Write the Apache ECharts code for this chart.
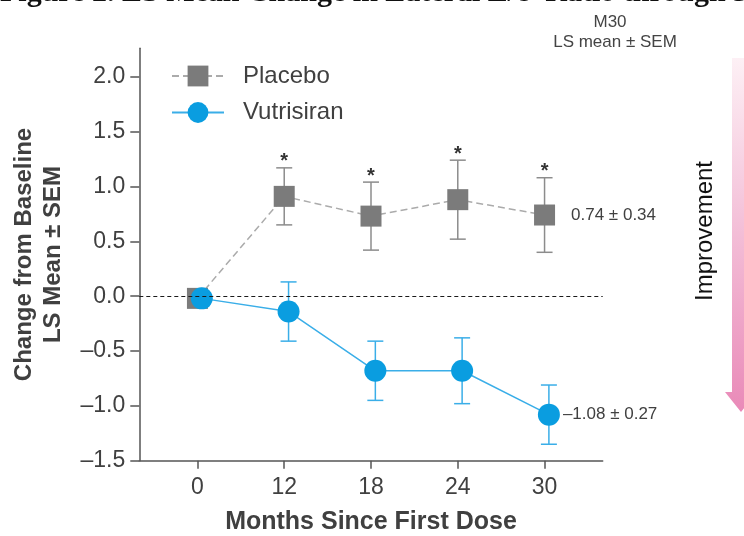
<!DOCTYPE html>
<html><head><meta charset="utf-8">
<script src="https://cdn.jsdelivr.net/npm/echarts@6/dist/echarts.min.js"></script>
<style>html,body{margin:0;padding:0;background:#fff}#c{width:744px;height:536px}</style>
</head><body><div id="c"></div>
<script>
// ---- data ----
const months = ['0', '12', '18', '24', '30'];
const placeboMean = [-0.02, 0.91, 0.73, 0.88, 0.74];
const placeboSem = [0, 0.26, 0.31, 0.36, 0.34];
const placeboSignificant = [false, true, true, true, true];
const vutrisiranMean = [-0.02, -0.14, -0.68, -0.68, -1.08];
const vutrisiranSem = [0, 0.27, 0.27, 0.30, 0.27];
const yTicks = [-1.5, -1, -0.5, 0, 0.5, 1, 1.5, 2];

// ---- style ----
const FONT = '"Liberation Sans", Arial, sans-serif';
const TXT = '#404040';
const GRAY = '#7b7b7b', GRAY_BAR = '#8c8c8c', GRAY_LINE = '#ababab';
const BLUE = '#0a9de0', BLUE_LINE = '#3aaee8';
const dodgePlacebo = 0, dodgeVutri = 0.05;
const fmt = v => (v < 0 ? '\u2013' : '') + Math.abs(v).toFixed(2);
const idx = months.map((m, i) => i);

function errorBars(color, dodge, sig) {
  return function (params, api) {
    const x = api.value(0) + dodge, m = api.value(1), s = api.value(2);
    const top = api.coord([x, m + s]);
    const children = [];
    if (s > 0) {
      const bot = api.coord([x, m - s]);
      const hw = 8, st = { stroke: color, lineWidth: 1.5 };
      children.push({ type: 'line', shape: { x1: top[0], y1: top[1], x2: bot[0], y2: bot[1] }, style: st });
      children.push({ type: 'line', shape: { x1: top[0] - hw, y1: top[1], x2: top[0] + hw, y2: top[1] }, style: st });
      children.push({ type: 'line', shape: { x1: bot[0] - hw, y1: bot[1], x2: bot[0] + hw, y2: bot[1] }, style: st });
    }
    if (sig && sig[params.dataIndex]) {
      children.push({ type: 'text', x: top[0], y: top[1] - 6,
        style: { text: '*', fill: '#333', font: 'bold 20px ' + FONT, align: 'center', verticalAlign: 'middle' } });
    }
    return { type: 'group', children };
  };
}

function lineData(means, sems, dodge, labelDist) {
  return means.map((m, i) => {
    const item = { value: [idx[i] + dodge, m] };
    if (i === means.length - 1) {
      item.label = { show: true, position: 'right', distance: labelDist,
        formatter: fmt(m) + ' \u00b1 ' + sems[i].toFixed(2),
        fontSize: 17, color: TXT, fontFamily: FONT };
    }
    return item;
  });
}

const chart = echarts.init(document.getElementById('c'));
chart.setOption({
  animation: false,
  backgroundColor: '#fff',
  grid: { left: 139.3, right: 141.3, top: 48.3, bottom: 75.3, outerBoundsMode: 'none', containLabel: false },
  legend: {
    data: ['Placebo', 'Vutrisiran'], orient: 'vertical', left: 166, top: 58,
    itemWidth: 52, itemHeight: 26, itemGap: 10.5,
    textStyle: { fontSize: 24, color: TXT, fontFamily: FONT, padding: [0, 0, 0, 14], lineHeight: 26 }
  },
  xAxis: {
    type: 'value', min: -0.67, max: 4.67,
    axisLine: { onZero: false, lineStyle: { color: '#555', width: 1.5 } },
    axisTick: { show: true, length: 8, customValues: idx, lineStyle: { color: '#555', width: 1.5 } },
    axisLabel: { customValues: idx, formatter: v => months[Math.round(v)], margin: 15,
      fontSize: 23, lineHeight: 23, color: TXT, fontFamily: FONT },
    splitLine: { show: false },
    name: 'Months Since First Dose', nameLocation: 'middle', nameGap: 49,
    nameTextStyle: { fontSize: 25, fontWeight: 'bold', color: TXT, fontFamily: FONT, lineHeight: 25 }
  },
  yAxis: {
    type: 'value', min: -1.5, max: 2.26,
    axisLine: { show: true, onZero: false, lineStyle: { color: '#555', width: 1.5 } },
    axisTick: { show: true, length: 9, customValues: yTicks, lineStyle: { color: '#555', width: 1.5 } },
    axisLabel: { customValues: yTicks, formatter: v => (v < 0 ? '\u2013' : '') + Math.abs(v).toFixed(1),
      margin: 14, fontSize: 23, color: TXT, fontFamily: FONT },
    splitLine: { show: false },
    name: 'Change from Baseline\nLS Mean \u00b1 SEM', nameLocation: 'middle', nameRotate: 90, nameGap: 71,
    nameTextStyle: { fontSize: 24, fontWeight: 'bold', color: TXT, fontFamily: FONT, lineHeight: 29 }
  },
  series: [
    {
      name: 'Placebo SEM', type: 'custom', z: 1,
      renderItem: errorBars(GRAY_BAR, dodgePlacebo, placeboSignificant),
      encode: { x: 0, y: 1 },
      data: placeboMean.map((m, i) => [idx[i], m, placeboSem[i]]),
      markLine: {
        silent: true, symbol: 'none', label: { show: false },
        lineStyle: { color: '#1a1a1a', type: [4, 3], width: 1.2 },
        data: [{ yAxis: 0 }]
      }
    },
    {
      name: 'Vutrisiran SEM', type: 'custom', z: 1,
      renderItem: errorBars(BLUE_LINE, dodgeVutri, null),
      encode: { x: 0, y: 1 },
      data: vutrisiranMean.map((m, i) => [idx[i], m, vutrisiranSem[i]])
    },
    {
      name: 'Placebo', type: 'line', z: 3, symbol: 'rect', symbolSize: 21,
      itemStyle: { color: GRAY },
      lineStyle: { color: GRAY_LINE, type: [7, 4], width: 1.5 },
      data: lineData(placeboMean, placeboSem, dodgePlacebo, 16)
    },
    {
      name: 'Vutrisiran', type: 'line', z: 4, symbol: 'circle', symbolSize: 22,
      itemStyle: { color: BLUE },
      lineStyle: { color: BLUE_LINE, width: 1.5 },
      data: lineData(vutrisiranMean, vutrisiranSem, dodgeVutri, 3)
    }
  ],
  graphic: [
    { type: 'text', left: 0, top: -22, silent: true,
      style: { text: "Figure 2. LS Mean Change in Lateral E/e' Ratio through 30", fill: '#111',
        font: 'bold 30px "Liberation Serif", "Times New Roman", serif' } },
    { type: 'text', x: 610, y: 22, silent: true,
      style: { text: 'M30', fill: '#444', font: '17px ' + FONT, align: 'center', verticalAlign: 'middle' } },
    { type: 'text', x: 615, y: 42, silent: true,
      style: { text: 'LS mean \u00b1 SEM', fill: '#444', font: '17px ' + FONT, align: 'center', verticalAlign: 'middle' } },
    { type: 'text', x: 705, y: 231, rotation: Math.PI / 2, silent: true,
      style: { text: 'Improvement', fill: '#111', font: '24px ' + FONT, align: 'center', verticalAlign: 'middle' } },
    { type: 'polygon', silent: true,
      shape: { points: [[732, 58], [750, 58], [750, 392], [757, 392], [741, 412], [725, 392], [732, 392]] },
      style: { fill: { type: 'linear', x: 0, y: 0, x2: 0, y2: 1,
        colorStops: [{ offset: 0, color: '#fdf0f5' }, { offset: 1, color: '#e98ab8' }] } } }
  ]
});
</script></body></html>
